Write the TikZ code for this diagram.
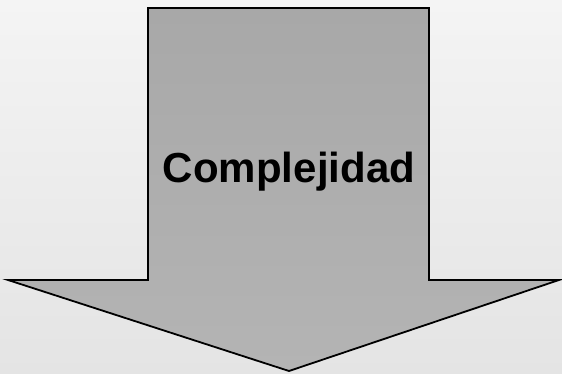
\documentclass[tikz,border=0pt]{standalone}
\usepackage{fontspec}
\setmainfont{Liberation Sans}
\usetikzlibrary{positioning}
\definecolor{bgtop}{HTML}{F4F4F4}
\definecolor{bgbot}{HTML}{E4E4E4}
\definecolor{arrowtop}{HTML}{A8A8A8}
\definecolor{arrowbot}{HTML}{B4B4B4}
\tikzset{
    bigarrow/.style={draw=black, line width=1.8pt, line join=miter, top color=arrowtop, bottom color=arrowbot},
    label text/.style={font=\fontsize{42}{46}\selectfont\bfseries, inner sep=0pt},
}
\begin{document}
\begin{tikzpicture}[x=1pt, y=-1pt]
    % background
    \shade[top color=bgtop, bottom color=bgbot] (0,0) rectangle (562,374);
    \useasboundingbox (0,0) rectangle (562,374);
    % arrow pointing down
    \coordinate (shaftTL) at (148,8);
    \coordinate (shaftTR) at (429,8);
    \coordinate (tip) at (289,371);
    \path[bigarrow] (shaftTL) -- (shaftTR) -- (429,280) -- (559,280)
        -- (tip) -- (8,280) -- (148,280) -- cycle;
    \node[label text, anchor=base] (complejidad) at (289,183) {Complejidad};
\end{tikzpicture}
\end{document}
